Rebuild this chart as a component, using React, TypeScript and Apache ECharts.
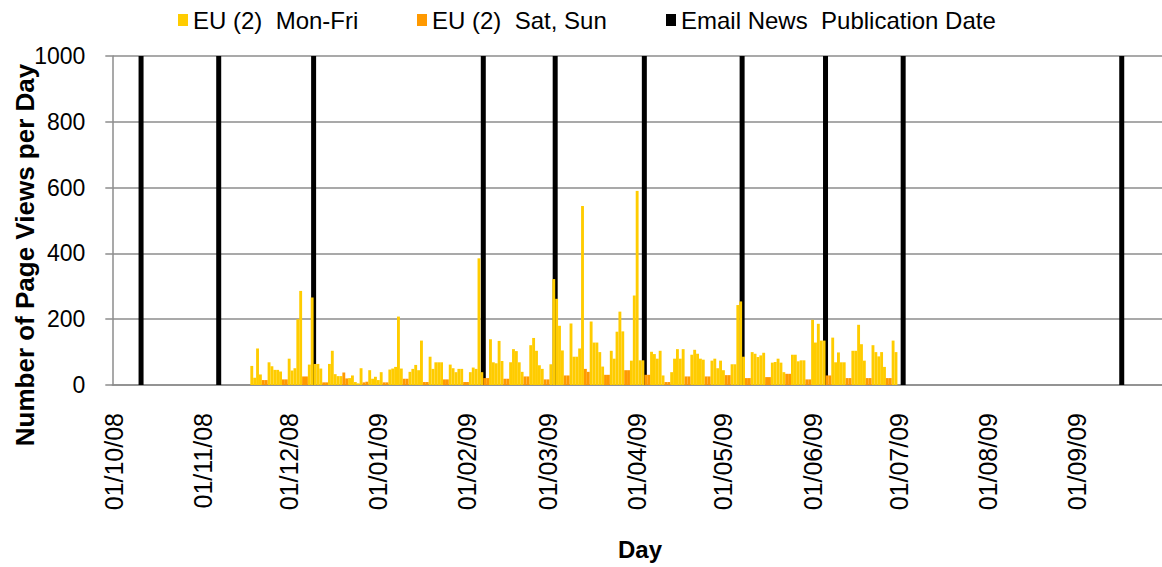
import React, { useEffect, useRef } from "react";
import * as echarts from "echarts";

// ---- data ----
const axisStartDate = "2008-10-01";
const axisDayCount = 365;
const monthTickLabels = [
  "01/10/08", "01/11/08", "01/12/08", "01/01/09", "01/02/09", "01/03/09",
  "01/04/09", "01/05/09", "01/06/09", "01/07/09", "01/08/09", "01/09/09",
];

// daily page views, one row per week (Mon..Sun), first row starts Mon 17/11/08
const firstDataDate = "2008-11-17";
const week01 = [null, 58, 22, 111, 32, 15, 15];
const week02 = [69, 57, 46, 46, 41, 17, 17];
const week03 = [80, 44, 51, 200, 286, 26, 26];
const week04 = [62, 266, 64, 64, 50, 8, 8];
const week05 = [64, 104, 33, 27, 27, 38, 20];
const week06 = [21, 29, 9, 5, 51, 8, 10];
const week07 = [45, 19, 25, 15, 39, 8, 8];
const week08 = [47, 50, 55, 208, 50, 19, 19];
const week09 = [40, 49, 61, 45, 135, 9, 9];
const week10 = [86, 49, 69, 69, 69, 17, 17];
const week11 = [62, 51, 39, 49, 49, 9, 9];
const week12 = [39, 53, 49, 385, 39, 21, 21];
const week13 = [139, 69, 66, 134, 73, 19, 19];
const week14 = [69, 109, 103, 69, 40, 26, 26];
const week15 = [121, 143, 104, 60, 49, 17, 17];
const week16 = [63, 322, 262, 180, 105, 29, 29];
const week17 = [187, 86, 86, 111, 544, 49, 40];
const week18 = [193, 129, 129, 100, 56, 31, 31];
const week19 = [104, 80, 162, 223, 163, 45, 45];
const week20 = [74, 272, 590, 75, 75, 31, 31];
const week21 = [101, 94, 80, 104, 29, 9, 9];
const week22 = [39, 80, 109, 80, 109, 26, 26];
const week23 = [92, 107, 95, 80, 77, 26, 26];
const week24 = [74, 80, 51, 74, 45, 30, 30];
const week25 = [63, 63, 243, 254, 86, 21, 21];
const week26 = [100, 95, 85, 90, 98, 24, 24];
const week27 = [68, 70, 80, 68, 39, 34, 34];
const week28 = [92, 92, 72, 75, 75, 17, 17];
const week29 = [198, 129, 186, 135, 135, 29, 29];
const week30 = [144, 69, 99, 69, 69, 21, 21];
const week31 = [104, 104, 183, 124, 74, 21, 21];
const week32 = [121, 100, 87, 100, 55, 21, 21];
const week33 = [135, 100];

const emailNewsDates = [
  "2008-10-11", "2008-11-07", "2008-12-10", "2009-02-07", "2009-03-04",
  "2009-04-04", "2009-05-08", "2009-06-06", "2009-07-03", "2009-09-17",
];
const emailNewsLevel = 1000;

const seriesNames = ["EU (2)  Mon-Fri", "EU (2)  Sat, Sun", "Email News  Publication Date"];

// ---- build ----
const DAY = 86400000;
const t0 = Date.parse(axisStartDate + "T00:00:00Z");
const pad = (n: number) => (n < 10 ? "0" + n : "" + n);

const categories: string[] = [];
const dows: number[] = [];
for (let i = 0; i < axisDayCount; i++) {
  const d = new Date(t0 + i * DAY);
  categories.push(pad(d.getUTCDate()) + "/" + pad(d.getUTCMonth() + 1) + "/" + pad(d.getUTCFullYear() % 100));
  dows.push(d.getUTCDay());
}

const dailyPageViews: (number | null)[] = [
  week01, week02, week03, week04, week05, week06, week07, week08, week09, week10, week11,
  week12, week13, week14, week15, week16, week17, week18, week19, week20, week21, week22,
  week23, week24, week25, week26, week27, week28, week29, week30, week31, week32, week33,
].flat();

const firstIdx = Math.round((Date.parse(firstDataDate + "T00:00:00Z") - t0) / DAY);
const weekdayData: (number | string)[] = [];
const weekendData: (number | string)[] = [];
for (let i = 0; i < axisDayCount; i++) {
  const k = i - firstIdx;
  const v = k >= 0 && k < dailyPageViews.length ? dailyPageViews[k] : null;
  const weekend = dows[i] === 0 || dows[i] === 6;
  if (v == null) {
    weekdayData.push("-");
    weekendData.push("-");
  } else if (weekend) {
    weekdayData.push("-");
    weekendData.push(v);
  } else {
    weekdayData.push(v);
    weekendData.push("-");
  }
}
const emailData = emailNewsDates.map((s) => [
  (Date.parse(s + "T00:00:00Z") - t0) / DAY,
  emailNewsLevel,
]);

const FONT = "Liberation Sans";
const GRID_LEFT = 112.3;
const DAY_PX = 2.885;

export default function App() {
  const ref = useRef<HTMLDivElement>(null);
  useEffect(() => {
    if (!ref.current) return;
    const chart = echarts.init(ref.current, undefined, { renderer: "svg" });
    const legendCommon = {
      top: 3,
      itemWidth: 10,
      itemHeight: 12,
      icon: "rect",
      textStyle: { fontFamily: FONT, fontSize: 24, color: "#000" },
    };
    chart.setOption({
      animation: false,
      backgroundColor: "#fff",
      legend: [
        { ...legendCommon, left: 173, data: [seriesNames[0]] },
        { ...legendCommon, left: 412, data: [seriesNames[1]] },
        { ...legendCommon, left: 661, data: [seriesNames[2]] },
      ],
      grid: { left: GRID_LEFT, top: 56, width: DAY_PX * axisDayCount, height: 329, containLabel: false },
      xAxis: [
        {
          type: "category",
          data: categories,
          boundaryGap: true,
          axisLine: { lineStyle: { color: "#8c8c8c", width: 1.5 } },
          axisTick: {
            length: 8,
            lineStyle: { color: "#8c8c8c", width: 1.5 },
            interval: (_i: number, v: string) => monthTickLabels.includes(v),
          },
          axisLabel: {
            interval: (_i: number, v: string) => monthTickLabels.includes(v),
            rotate: 90,
            margin: 28,
            fontFamily: FONT,
            fontSize: 25,
            color: "#000",
          },
          splitLine: { show: false },
        },
        {
          type: "value",
          min: 0,
          max: axisDayCount,
          show: false,
        },
      ],
      yAxis: {
        type: "value",
        min: 0,
        max: 1000,
        interval: 200,
        axisLine: { show: true, lineStyle: { color: "#8c8c8c", width: 1.5 } },
        axisTick: { show: true, length: 7, lineStyle: { color: "#8c8c8c", width: 1.5 } },
        axisLabel: {
          margin: 27,
          fontFamily: FONT,
          fontSize: 23,
          color: "#000",
          formatter: (v: number) => String(v),
        },
        splitLine: { lineStyle: { color: "#8c8c8c", width: 1.5 } },
      },
      series: [
        {
          name: seriesNames[2],
          type: "bar",
          xAxisIndex: 1,
          data: emailData,
          barWidth: 5,
          itemStyle: { color: "#000" },
          z: 1,
        },
        {
          name: seriesNames[0],
          type: "bar",
          xAxisIndex: 0,
          stack: "views",
          data: weekdayData,
          barCategoryGap: "0%",
          itemStyle: { color: "#FFCC00" },
          z: 3,
        },
        {
          name: seriesNames[1],
          type: "bar",
          xAxisIndex: 0,
          stack: "views",
          data: weekendData,
          barCategoryGap: "0%",
          itemStyle: { color: "#FF9900" },
          z: 3,
        },
      ],
      graphic: [
        {
          type: "text",
          x: 25,
          y: 255,
          rotation: Math.PI / 2,
          style: {
            text: "Number of Page Views per Day",
            fontFamily: FONT,
            fontSize: 26,
            fontWeight: "bold",
            fill: "#000",
            align: "center",
            verticalAlign: "middle",
          },
        },
        {
          type: "text",
          x: 640,
          y: 549,
          style: {
            text: "Day",
            fontFamily: FONT,
            fontSize: 24,
            fontWeight: "bold",
            fill: "#000",
            align: "center",
            verticalAlign: "middle",
          },
        },
      ],
    });
    return () => chart.dispose();
  }, []);
  return (
    <div
      ref={ref}
      style={{ position: "absolute", left: 0, top: 0, width: 1162, height: 567, overflow: "hidden" }}
    />
  );
}
